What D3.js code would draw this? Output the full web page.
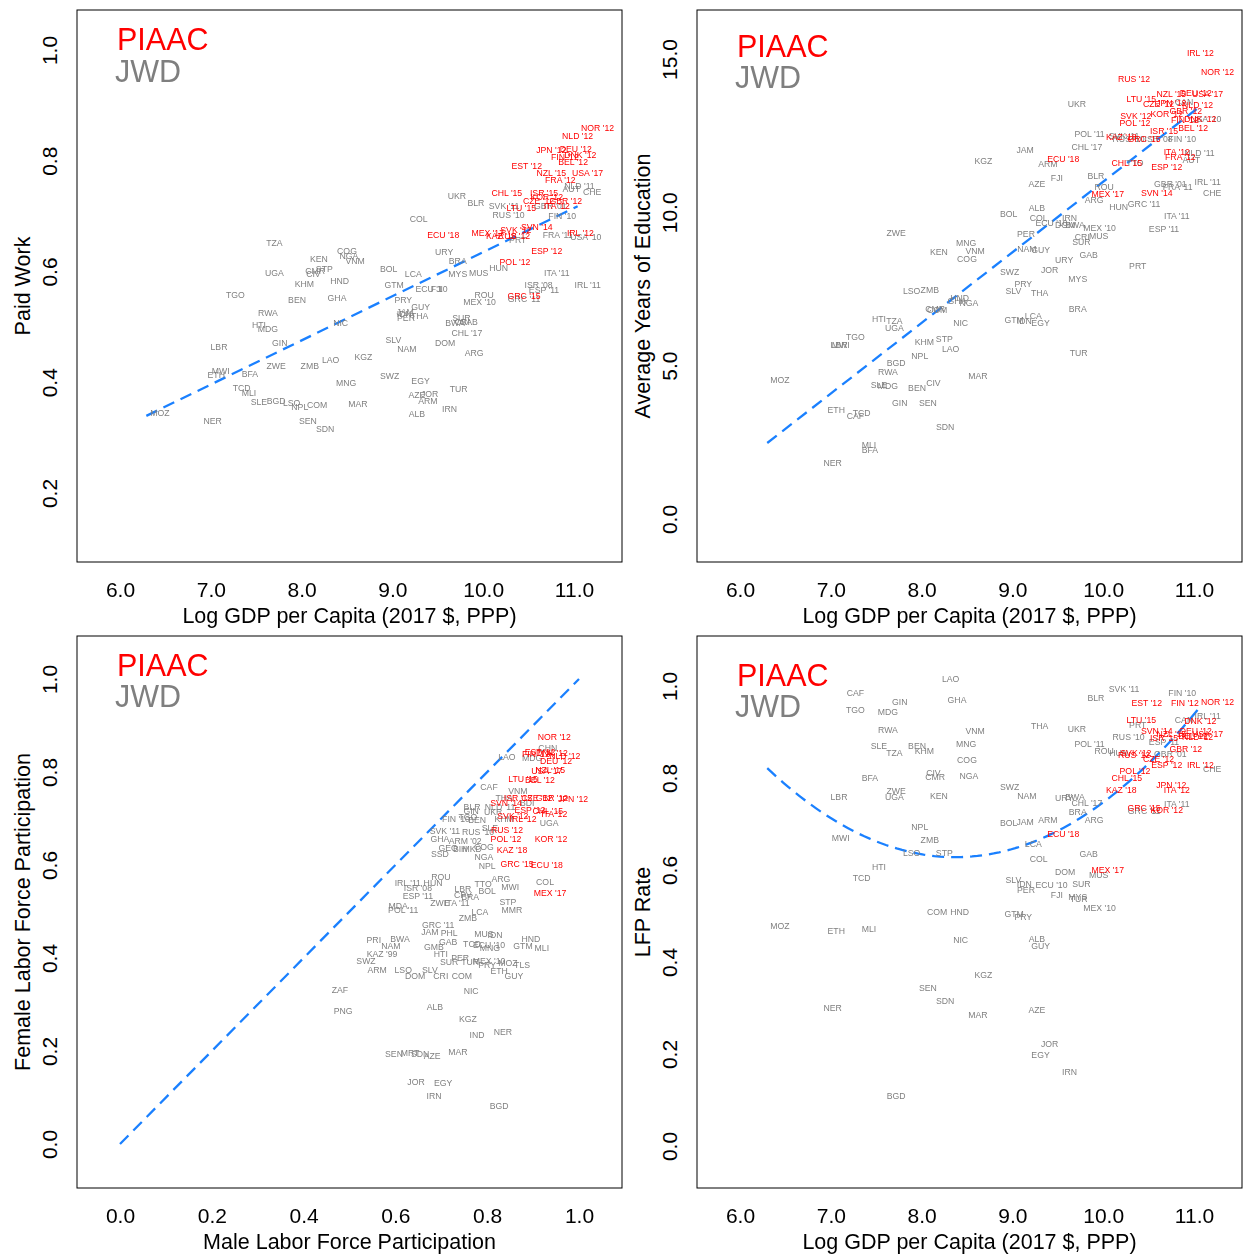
<!DOCTYPE html>
<html>
<head>
<meta charset="utf-8">
<script src="https://cdn.jsdelivr.net/npm/d3@7"></script>
<style>
  body { margin: 0; background: #fff; }
  text { font-family: "Liberation Sans", Arial, Helvetica, sans-serif; }
  .labels { opacity: 0.999; will-change: opacity; }
</style>
</head>
<body>
<svg id="chart" width="1246" height="1257"></svg>
<script>
// ---------- data ----------
// log GDP per capita (2017 $, PPP) for every country / survey label
const logGdp = [
  ["MOZ",6.44],["NER",7.02],["ETH",7.06],["LBR",7.09],["MWI",7.11],["TGO",7.27],["CAF",7.27],["TCD",7.34],
  ["MLI",7.42],["BFA",7.43],["SLE",7.53],["HTI",7.53],["RWA",7.63],["MDG",7.63],["TZA",7.70],["UGA",7.70],
  ["BGD",7.72],["ZWE",7.72],["GIN",7.76],["LSO",7.89],["BEN",7.95],["NPL",7.98],["KHM",8.03],["SEN",8.07],
  ["ZMB",8.09],["CIV",8.13],["CMR",8.15],["COM",8.17],["KEN",8.19],["STP",8.25],["SDN",8.26],["LAO",8.32],
  ["GHA",8.39],["HND",8.42],["NIC",8.43],["MNG",8.49],["COG",8.50],["NGA",8.52],["VNM",8.59],["MAR",8.62],
  ["KGZ",8.68],["BOL",8.96],["SWZ",8.97],["SLV",9.01],["GTM",9.02],["PRY",9.12],["IDN",9.13],["JAM",9.14],
  ["PER",9.15],["NAM",9.16],["LCA",9.23],["AZE",9.27],["ALB",9.27],["COL",9.29],["THA",9.30],["EGY",9.31],
  ["GUY",9.31],["ARM",9.39],["JOR",9.41],["ECU '10",9.43],["FJI",9.49],["ECU '18",9.56],["URY",9.57],
  ["DOM",9.58],["IRN",9.63],["BWA",9.69],["UKR",9.71],["BRA",9.72],["MYS",9.72],["TUR",9.73],["SUR",9.76],
  ["CRI",9.77],["CHL '17",9.82],["GAB",9.84],["POL '11",9.85],["ARG",9.90],["BLR",9.92],["MUS",9.95],
  ["MEX '10",9.96],["ROU",10.01],["MEX '17",10.05],["HUN",10.17],["KAZ '18",10.20],["SVK '11",10.23],
  ["CHL '15",10.26],["RUS '10",10.28],["RUS '12",10.34],["POL '12",10.35],["TTO",10.35],["SVK '12",10.36],
  ["PRT",10.38],["LTU '15",10.42],["GRC '15",10.45],["GRC '11",10.45],["EST '12",10.48],["SVN '14",10.59],
  ["CZE '12",10.61],["ISR '08",10.61],["ISR '15",10.67],["ESP '11",10.67],["ESP '12",10.70],["KOR '12",10.70],
  ["GBR '01",10.74],["JPN '12",10.75],["NZL '15",10.75],["ITA '11",10.81],["ITA '12",10.81],["FRA '11",10.82],
  ["FRA '12",10.85],["FIN '10",10.87],["CAN",10.89],["FIN '12",10.90],["GBR '12",10.91],["AUT",10.97],
  ["BEL '12",10.99],["DEU '12",11.02],["NLD '12",11.04],["NLD '11",11.06],["DNK '12",11.07],["IRL '12",11.07],
  ["USA '10",11.13],["USA '17",11.15],["IRL '11",11.15],["CHE",11.20],["NOR '12",11.26]
];

// surveys that come from PIAAC (drawn in red); the rest are JWD
const piaacSurveys = [
  "NOR '12","NLD '12","JPN '12","DEU '12","FIN '12","DNK '12","BEL '12","EST '12","NZL '15","USA '17",
  "FRA '12","CHL '15","ISR '15","KOR '12","CZE '12","GBR '12","LTU '15","ITA '12","SVN '14","SVK '12",
  "MEX '17","KAZ '18","RUS '12","ECU '18","IRL '12","ESP '12","POL '12","GRC '15"
];

// paid work share
const paidWork = [
  ["TZA",.652],["COG",.637],["NGA",.628],["VNM",.619],["KEN",.623],["STP",.605],["CMR",.601],["CIV",.596],
  ["UGA",.597],["HND",.583],["KHM",.577],["TGO",.558],["BEN",.549],["GHA",.552],["BOL",.605],["GTM",.576],
  ["RWA",.525],["HTI",.503],["MDG",.496],["NIC",.507],["GIN",.471],["LBR",.464],["LAO",.440],["KGZ",.446],
  ["SLV",.476],["ZWE",.429],["ZMB",.429],["MWI",.420],["ETH",.413],["BFA",.415],["MNG",.399],["SWZ",.411],
  ["TCD",.390],["MLI",.381],["SLE",.364],["BGD",.366],["LSO",.363],["NPL",.355],["COM",.359],["MAR",.361],
  ["MOZ",.344],["NER",.330],["SEN",.330],["SDN",.316],["COL",.695],["UKR",.736],["BLR",.724],["URY",.635],
  ["BRA",.619],["LCA",.596],["MYS",.596],["MUS",.597],["HUN",.606],["ECU '10",.568],["FJI",.568],["ROU",.558],
  ["MEX '10",.545],["PRY",.549],["GUY",.536],["JAM",.527],["IDN",.523],["PER",.516],["THA",.520],["SUR",.516],
  ["BWA",.507],["GAB",.509],["CRI",.509],["CHL '17",.489],["DOM",.471],["NAM",.460],["ARG",.453],["EGY",.402],
  ["TUR",.388],["AZE",.377],["JOR",.379],["ARM",.366],["IRN",.352],["ALB",.343],["SVK '11",.718],["GBR '01",.718],
  ["RUS '10",.702],["FIN '10",.700],["NLD '11",.754],["AUT",.749],["CHE",.744],["PRT",.657],["FRA '11",.666],
  ["USA '10",.662],["ITA '11",.597],["ISR '08",.576],["ESP '11",.567],["IRL '11",.576],["GRC '11",.550],
  ["NOR '12",.859],["NLD '12",.845],["JPN '12",.819],["DEU '12",.821],["FIN '12",.807],["DNK '12",.810],
  ["BEL '12",.798],["EST '12",.791],["NZL '15",.778],["USA '17",.778],["FRA '12",.765],["CHL '15",.742],
  ["ISR '15",.742],["KOR '12",.735],["CZE '12",.727],["GBR '12",.727],["LTU '15",.715],["ITA '12",.718],
  ["SVN '14",.680],["SVK '12",.675],["MEX '17",.670],["KAZ '18",.664],["RUS '12",.664],["ECU '18",.666],
  ["IRL '12",.670],["ESP '12",.637],["POL '12",.617],["GRC '15",.556]
];

// average years of education
const education = [
  ["IRL '12",15.19],["NOR '12",14.57],["RUS '12",14.35],["UKR",13.53],["LTU '15",13.69],["NZL '15",13.86],
  ["DEU '12",13.89],["USA '17",13.86],["CZE '12",13.53],["JPN '12",13.56],["NLD '12",13.50],["CAN",13.60],
  ["SVK '12",13.14],["KOR '12",13.20],["GBR '12",13.30],["FIN '12",13.01],["DNK '12",13.04],["USA '10",13.04],
  ["POL '12",12.91],["BEL '12",12.75],["ISR '15",12.65],["POL '11",12.55],["SVK '11",12.49],["KAZ '18",12.45],
  ["RUS '10",12.39],["GRC '15",12.39],["ISR '08",12.39],["FIN '10",12.39],["CHL '17",12.13],["JAM",12.03],
  ["ITA '12",11.97],["NLD '11",11.93],["FRA '12",11.80],["AUT",11.70],["ECU '18",11.74],["ARM",11.57],
  ["CHL '15",11.61],["TTO",11.61],["ESP '12",11.48],["FJI",11.12],["AZE",10.92],["BLR",11.18],["ROU",10.82],
  ["MEX '17",10.60],["ARG",10.40],["GBR '01",10.92],["FRA '11",10.82],["IRL '11",10.99],["CHE",10.63],
  ["SVN '14",10.63],["HUN",10.17],["GRC '11",10.27],["ITA '11",9.88],["ESP '11",9.46],["BOL",9.94],
  ["ALB",10.14],["COL",9.81],["ECU '10",9.65],["IRN",9.81],["DOM",9.59],["BWA",9.59],["MEX '10",9.49],
  ["MUS",9.23],["CRI",9.19],["PER",9.29],["SUR",9.03],["NAM",8.80],["GUY",8.77],["GAB",8.61],["URY",8.44],
  ["PRT",8.25],["SWZ",8.05],["JOR",8.12],["MYS",7.83],["PRY",7.66],["SLV",7.43],["THA",7.37],["BRA",6.85],
  ["LCA",6.62],["GTM",6.49],["IDN",6.46],["EGY",6.39],["TUR",5.41],["KGZ",11.67],["ZWE",9.33],["MNG",9.00],
  ["KEN",8.71],["VNM",8.74],["COG",8.48],["LSO",7.43],["ZMB",7.47],["HND",7.21],["GHA",7.11],["NGA",7.04],
  ["CMR",6.85],["COM",6.81],["HTI",6.52],["TZA",6.46],["UGA",6.23],["NIC",6.39],["TGO",5.93],["LBR",5.67],
  ["MWI",5.67],["KHM",5.77],["STP",5.87],["LAO",5.54],["NPL",5.31],["BGD",5.09],["RWA",4.79],["MOZ",4.53],
  ["MAR",4.66],["SLE",4.37],["MDG",4.34],["BEN",4.27],["CIV",4.43],["GIN",3.78],["SEN",3.78],["ETH",3.55],
  ["TCD",3.46],["CAF",3.36],["SDN",3.00],["MLI",2.41],["BFA",2.25],["NER",1.83]
];

// female vs male labour force participation: [label, male, female]
const laborByGender = [
  ["NOR '12",.946,.875],["CHN",.932,.852],["LAO",.843,.832],["EST '12",.915,.843],["FIN '12",.906,.839],
  ["DNK '12",.941,.841],["NLD '12",.969,.834],["DEU '12",.950,.824],["MDG",.898,.830],["USA '17",.930,.802],
  ["NZL '15",.937,.804],["LTU '15",.878,.785],["BEL '12",.915,.783],["CAF",.804,.768],["VNM",.867,.759],
  ["THA",.837,.744],["ISR '15",.867,.744],["CZE '12",.908,.744],["GBR '12",.941,.744],["JPN '12",.987,.742],
  ["BDI",.887,.733],["SVN '14",.841,.733],["BLR",.767,.725],["GIN",.765,.716],["NLD '11",.828,.725],
  ["UKR",.813,.714],["ESP '12",.893,.718],["CHL '15",.932,.716],["ITA '12",.946,.710],["FIN '10",.732,.699],
  ["TGO",.758,.703],["BEN",.778,.697],["KHM",.837,.699],["SVK '12",.856,.705],["IRL '12",.878,.699],
  ["UGA",.935,.690],["SVK '11",.708,.673],["GHA",.697,.656],["SLE",.806,.680],["RUS '12",.843,.675],
  ["RUS '10",.780,.671],["POL '12",.841,.656],["KOR '12",.939,.656],["ARM '02",.752,.652],["COG",.793,.639],
  ["KAZ '18",.854,.632],["SSD",.697,.624],["GEO",.715,.637],["BIH",.741,.634],["MKD",.767,.634],
  ["NGA",.793,.617],["NPL",.800,.598],["GRC '15",.865,.602],["ECU '18",.930,.600],["ROU",.699,.574],
  ["IRL '11",.627,.561],["HUN",.682,.561],["ISR '08",.649,.551],["ESP '11",.649,.533],["TTO",.791,.559],
  ["ARG",.830,.570],["MWI",.850,.553],["COL",.926,.563],["MEX '17",.937,.540],["LBR",.747,.548],
  ["BOL",.800,.544],["CPV",.747,.535],["BRA",.763,.531],["STP",.845,.520],["MMR",.854,.503],["MDA",.606,.512],
  ["POL '11",.617,.503],["ZWE",.697,.518],["ITA '11",.734,.518],["LCA",.784,.499],["ZMB",.758,.486],
  ["GRC '11",.693,.471],["JAM",.675,.456],["PHL",.717,.454],["MUS",.793,.452],["IDN",.817,.449],
  ["PRI",.553,.439],["BWA",.610,.441],["GAB",.715,.434],["TCD",.767,.430],["ECU '10",.804,.428],
  ["HND",.895,.441],["GTM",.878,.426],["MLI",.919,.421],["NAM",.590,.426],["GMB",.684,.424],["HTI",.699,.409],
  ["MNG",.806,.421],["KAZ '99",.571,.409],["SWZ",.536,.394],["SUR",.717,.391],["PER",.741,.400],
  ["TUR",.763,.391],["MEX '10",.804,.394],["PRY",.800,.385],["MOZ",.845,.389],["TLS",.876,.385],
  ["ETH",.826,.372],["GUY",.858,.361],["ARM",.560,.374],["LSO",.617,.374],["DOM",.643,.361],["SLV",.675,.374],
  ["CRI",.699,.361],["COM",.745,.361],["ZAF",.479,.331],["NIC",.765,.329],["ALB",.686,.295],["PNG",.486,.286],
  ["KGZ",.758,.269],["IND",.778,.234],["NER",.834,.241],["SEN",.597,.194],["MRT",.632,.196],["SDN",.654,.194],
  ["AZE",.680,.189],["MAR",.736,.198],["JOR",.645,.133],["EGY",.704,.131],["IRN",.684,.103],["BGD",.826,.082]
];

// labour force participation rate
const lfpRate = [
  ["SVK '11",.993],["BLR",.974],["FIN '10",.985],["EST '12",.963],["FIN '12",.963],["NOR '12",.965],
  ["THA",.913],["UKR",.907],["LTU '15",.926],["PRT",.915],["IRL '11",.935],["CAN",.926],["DNK '12",.924],
  ["SVN '14",.902],["RUS '10",.889],["ISR '15",.887],["NZL '15",.896],["USA '17",.896],["DEU '12",.902],
  ["NLD '12",.889],["BEL '12",.891],["POL '11",.874],["ROU",.859],["HUN",.854],["ESP '11",.878],
  ["GBR '01",.852],["GBR '12",.863],["SVK '12",.854],["RUS '12",.850],["CZE '12",.841],["ESP '12",.828],
  ["IRL '12",.828],["CHE",.820],["POL '12",.815],["CHL '15",.800],["KAZ '18",.774],["JPN '12",.785],
  ["ITA '12",.774],["ITA '11",.743],["GRC '15",.735],["GRC '11",.728],["KOR '12",.730],["SWZ",.780],
  ["NAM",.761],["URY",.757],["BWA",.759],["CHL '17",.746],["BRA",.726],["ARG",.709],["BOL",.702],["JAM",.704],
  ["ARM",.709],["ECU '18",.678],["LCA",.657],["COL",.624],["GAB",.635],["DOM",.596],["MEX '17",.600],
  ["MUS",.589],["SLV",.578],["IDN",.570],["PER",.557],["ECU '10",.567],["SUR",.570],["FJI",.546],
  ["MEX '10",.517],["MYS",.541],["TUR",.537],["GTM",.504],["PRY",.498],["LAO",1.015],["CAF",.985],
  ["GIN",.965],["GHA",.970],["TGO",.948],["MDG",.943],["RWA",.904],["VNM",.902],["MNG",.874],["SLE",.870],
  ["BEN",.870],["TZA",.854],["KHM",.859],["COG",.839],["CIV",.811],["CMR",.802],["NGA",.804],["BFA",.800],
  ["ZWE",.772],["UGA",.759],["KEN",.761],["LBR",.759],["NPL",.693],["MWI",.670],["ZMB",.665],["LSO",.637],
  ["STP",.637],["HTI",.607],["TCD",.583],["COM",.509],["HND",.509],["MOZ",.478],["ETH",.467],["MLI",.472],
  ["NIC",.448],["ALB",.450],["GUY",.435],["KGZ",.372],["SEN",.343],["SDN",.315],["NER",.300],["MAR",.285],
  ["AZE",.296],["JOR",.222],["EGY",.198],["IRN",.161],["BGD",.109]
];

// fitted curves: polynomial coefficients (constant, linear, quadratic) and x span
const paidWorkFit = { coef: [-0.162, 0.0797, 0], span: [6.29, 11.04] };
const educationFit = { coef: [-12.03, 2.303, 0], span: [6.30, 11.055] };
const parityLine = { coef: [0, 1, 0], span: [0, 1] };
const lfpFit = { coef: [3.783, -0.7536, 0.045], span: [6.30, 11.05] };

// tick values
const gdpTicks = [6, 7, 8, 9, 10, 11];
const shareTicks = [0.2, 0.4, 0.6, 0.8, 1.0];
const eduTicks = [0, 5, 10, 15];
const unitTicks = [0, 0.2, 0.4, 0.6, 0.8, 1.0];

// ---------- drawing ----------
const GREY = "#7f7f7f", RED = "#ff0000", BLUE = "#1a80ff";
const AXIS_FONT = 21, TITLE_FONT = 21.5;
const svg = d3.select("#chart");
const gdpMap = new Map(logGdp);
const piaacSet = new Set(piaacSurveys);
const gdpTitle = "Log GDP per Capita (2017 $, PPP)";

const panels = [
  { id: 1, box: [77, 10, 622, 562],
    xs: d3.scaleLinear().domain([6, 11]).range([120, 574]),
    ys: d3.scaleLinear().domain([0.2, 1.0]).range([493, 50]),
    xTicks: gdpTicks, yTicks: shareTicks,
    points: paidWork.map(([lab, v]) => ({ lab, x: gdpMap.get(lab), y: v })),
    fit: paidWorkFit, xTitle: gdpTitle, yTitle: "Paid Work", legend: [50, 82] },
  { id: 2, box: [697, 10, 1242, 562],
    xs: d3.scaleLinear().domain([6, 11]).range([740, 1194]),
    ys: d3.scaleLinear().domain([0, 15]).range([519, 59]),
    xTicks: gdpTicks, yTicks: eduTicks,
    points: education.map(([lab, v]) => ({ lab, x: gdpMap.get(lab), y: v })),
    fit: educationFit, xTitle: gdpTitle, yTitle: "Average Years of Education", legend: [57, 88] },
  { id: 3, box: [77, 636, 622, 1188],
    xs: d3.scaleLinear().domain([0, 1]).range([120, 579]),
    ys: d3.scaleLinear().domain([0, 1]).range([1144, 679]),
    xTicks: unitTicks, yTicks: unitTicks,
    points: laborByGender.map(([lab, m, f]) => ({ lab, x: m, y: f })),
    fit: parityLine, xTitle: "Male Labor Force Participation",
    yTitle: "Female Labor Force Participation", legend: [676, 707] },
  { id: 4, box: [697, 636, 1242, 1188],
    xs: d3.scaleLinear().domain([6, 11]).range([740, 1194]),
    ys: d3.scaleLinear().domain([0, 1]).range([1146, 686]),
    xTicks: gdpTicks, yTicks: unitTicks,
    points: lfpRate.map(([lab, v]) => ({ lab, x: gdpMap.get(lab), y: v })),
    fit: lfpFit, xTitle: gdpTitle, yTitle: "LFP Rate", legend: [686, 717] }
];

const defs = svg.append("defs");

function fitPoints(fit) {
  const [a, b] = fit.span;
  const n = fit.coef[2] === 0 ? 1 : 80;
  return d3.range(n + 1).map(i => {
    const x = a + (b - a) * i / n;
    return [x, fit.coef[0] + fit.coef[1] * x + fit.coef[2] * x * x];
  });
}

panels.forEach(p => {
  const [x0, y0, x1, y1] = p.box;
  const g = svg.append("g");
  const clipId = "plot-clip-" + p.id;
  defs.append("clipPath").attr("id", clipId)
    .append("rect").attr("x", x0).attr("y", y0).attr("width", x1 - x0).attr("height", y1 - y0);
  const plot = g.append("g").attr("clip-path", `url(#${clipId})`);

  // fitted dashed curve
  plot.append("path")
    .datum(fitPoints(p.fit))
    .attr("d", d3.line().x(d => p.xs(d[0])).y(d => p.ys(d[1])))
    .attr("fill", "none")
    .attr("stroke", BLUE)
    .attr("stroke-width", 2.3)
    .attr("stroke-dasharray", "12,7");

  // country labels: JWD first, PIAAC on top
  const pts = p.points.filter(d => d.x != null)
    .sort((a, b) => piaacSet.has(a.lab) - piaacSet.has(b.lab));
  plot.append("g").attr("class", "labels")
    .selectAll("text").data(pts).join("text")
    .attr("x", d => p.xs(d.x))
    .attr("y", d => p.ys(d.y))
    .attr("dy", "0.36em")
    .attr("text-anchor", "middle")
    .attr("font-size", 8.7)
    .attr("fill", d => piaacSet.has(d.lab) ? RED : GREY)
    .text(d => d.lab);

  // frame
  g.append("rect")
    .attr("x", x0).attr("y", y0).attr("width", x1 - x0).attr("height", y1 - y0)
    .attr("fill", "none").attr("stroke", "#000").attr("stroke-width", 1);

  // x axis
  const xa = g.append("g").attr("transform", `translate(0,${y1})`)
    .call(d3.axisBottom(p.xs).tickValues(p.xTicks).tickFormat(d3.format(".1f"))
      .tickSize(0).tickPadding(20));
  xa.select(".domain").remove();
  xa.attr("font-size", AXIS_FONT).attr("font-family", null);

  // y axis with labels parallel to the axis
  const ya = g.append("g").attr("transform", `translate(${x0},0)`)
    .call(d3.axisLeft(p.ys).tickValues(p.yTicks).tickFormat(d3.format(".1f")).tickSize(0));
  ya.select(".domain").remove();
  ya.attr("font-size", AXIS_FONT).attr("font-family", null);
  ya.selectAll(".tick text")
    .attr("x", null).attr("dy", null)
    .attr("text-anchor", "middle")
    .attr("transform", "translate(-20,0) rotate(-90)");

  // axis titles
  g.append("text")
    .attr("x", (x0 + x1) / 2).attr("y", y1 + 61)
    .attr("text-anchor", "middle").attr("font-size", TITLE_FONT)
    .text(p.xTitle);
  g.append("text")
    .attr("transform", `translate(${x0 - 47},${(y0 + y1) / 2}) rotate(-90)`)
    .attr("text-anchor", "middle").attr("font-size", TITLE_FONT)
    .text(p.yTitle);

  // source key
  g.append("text").attr("x", x0 + 40).attr("y", p.legend[0])
    .attr("font-size", 30.5).attr("fill", RED).text("PIAAC");
  g.append("text").attr("x", x0 + 38).attr("y", p.legend[1])
    .attr("font-size", 30.5).attr("fill", GREY).text("JWD");
});
</script>
</body>
</html>
